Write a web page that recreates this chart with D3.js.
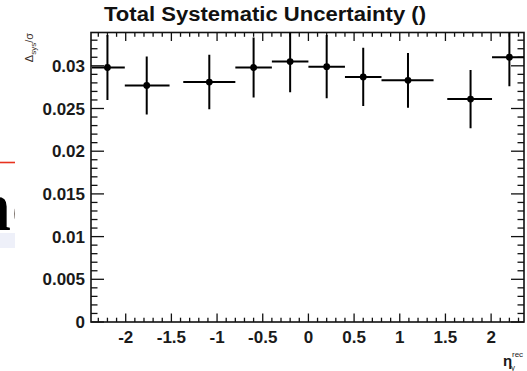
<!DOCTYPE html>
<html>
<head>
<meta charset="utf-8">
<script src="https://cdn.jsdelivr.net/npm/d3@7"></script>
<style>
  html, body { margin: 0; padding: 0; background: #fff; }
  svg { display: block; }
</style>
</head>
<body>
<svg id="chart" width="527" height="371"></svg>
<script>
// ---- data ----
const binLow   = [-2.37, -2.01, -1.37, -0.8, -0.4, 0.0, 0.4, 0.8, 1.52, 2.01];
const binHigh  = [-2.01, -1.52, -0.8, -0.4, 0.0, 0.4, 0.8, 1.37, 2.01, 2.37];
const xCenter  = [-2.2, -1.77, -1.085, -0.6, -0.2, 0.2, 0.6, 1.09, 1.775, 2.2];
const values   = [0.0298, 0.0277, 0.0281, 0.0298, 0.0305, 0.0299, 0.0287, 0.0283, 0.0261, 0.0310];
const errors   = [0.0038, 0.0034, 0.0032, 0.0035, 0.0036, 0.0037, 0.0034, 0.0032, 0.0034, 0.0034];
const xTicks   = [-2, -1.5, -1, -0.5, 0, 0.5, 1, 1.5, 2];
const xTickLabels = ["-2", "-1.5", "-1", "-0.5", "0", "0.5", "1", "1.5", "2"];
const yTicks   = [0, 0.005, 0.01, 0.015, 0.02, 0.025, 0.03];
const yTickLabels = ["0", "0.005", "0.01", "0.015", "0.02", "0.025", "0.03"];
const titleText = "Total Systematic Uncertainty ()";

const svg = d3.select("#chart");
const L = 91, R = 524, T = 32.5, B = 322;
const x = d3.scaleLinear().domain([-2.38, 2.36]).range([L, R]);
const y = d3.scaleLinear().domain([0, 0.0339]).range([B, T]);

svg.append("rect").attr("width", 527).attr("height", 371).attr("fill", "#fff");

// ---- leftover slide fragment on the left edge ----
const defs = svg.append("defs");
defs.append("clipPath").attr("id", "leftClip")
  .append("rect").attr("x", 0).attr("y", 0).attr("width", 15).attr("height", 371);
defs.append("clipPath").attr("id", "plotClip")
  .append("rect").attr("x", L).attr("y", T).attr("width", R - L).attr("height", B - T);
const frag = svg.append("g").attr("clip-path", "url(#leftClip)");
frag.append("line").attr("x1", 0).attr("x2", 15).attr("y1", 162.5).attr("y2", 162.5)
  .attr("stroke", "#e8321e").attr("stroke-width", 1.6);
frag.append("text").attr("x", 11).attr("y", 230).attr("text-anchor", "end")
  .attr("font-family", "Liberation Serif, serif").attr("font-weight", "bold")
  .attr("font-size", 70).attr("fill", "#000").text("n");
frag.append("text").attr("x", 12).attr("y", 230)
  .attr("font-family", "Liberation Serif, serif").attr("font-weight", "bold")
  .attr("font-size", 70).attr("fill", "#2a1a10").text("c");
frag.append("rect").attr("x", 0).attr("y", 233).attr("width", 15).attr("height", 15)
  .attr("fill", "#eef0f9");

// ---- title ----
svg.append("text").attr("x", 265).attr("y", 21).attr("text-anchor", "middle")
  .attr("font-family", "Liberation Sans, Arial, sans-serif").attr("font-weight", "bold")
  .attr("font-size", 19.5).attr("fill", "#111")
  .attr("textLength", 322).attr("lengthAdjust", "spacingAndGlyphs")
  .text(titleText);

// ---- ticks ----
const g = svg.append("g").attr("stroke", "#111").attr("stroke-width", 1.3);
const xMinor = d3.range(-23, 24).map(d => d / 10);
xMinor.forEach(v => {
  const major = Math.abs(v * 2 - Math.round(v * 2)) < 1e-6;
  const len = major ? 8.5 : 4.3;
  g.append("line").attr("x1", x(v)).attr("x2", x(v)).attr("y1", B).attr("y2", B - len);
  g.append("line").attr("x1", x(v)).attr("x2", x(v)).attr("y1", T).attr("y2", T + len);
});
const yMinor = d3.range(0, 34).map(d => d / 1000);
yMinor.forEach(v => {
  const major = (Math.round(v * 1000) % 5) === 0;
  const len = major ? 13 : 6.5;
  g.append("line").attr("x1", L).attr("x2", L + len).attr("y1", y(v)).attr("y2", y(v));
  g.append("line").attr("x1", R).attr("x2", R - len).attr("y1", y(v)).attr("y2", y(v));
});

// frame
svg.append("rect").attr("x", L).attr("y", T).attr("width", R - L).attr("height", B - T)
  .attr("fill", "none").attr("stroke", "#111").attr("stroke-width", 1.6);

// ---- tick labels ----
const labelFont = "Liberation Sans, Arial, sans-serif";
svg.append("g").selectAll("text").data(xTicks).join("text")
  .attr("x", d => x(d)).attr("y", 342.5).attr("text-anchor", "middle")
  .attr("font-family", labelFont).attr("font-weight", "bold").attr("font-size", 17)
  .attr("fill", "#1a1a1a")
  .text((d, i) => xTickLabels[i]);
svg.append("g").selectAll("text").data(yTicks).join("text")
  .attr("x", 85).attr("y", d => y(d) + 6).attr("text-anchor", "end")
  .attr("font-family", labelFont).attr("font-weight", "bold").attr("font-size", 17)
  .attr("fill", "#1a1a1a")
  .text((d, i) => yTickLabels[i]);

// ---- axis titles ----
const yt = svg.append("text")
  .attr("transform", "translate(33,33) rotate(-90)")
  .attr("text-anchor", "end")
  .attr("font-family", labelFont).attr("font-size", 11).attr("fill", "#3a2e28");
yt.append("tspan").text("Δ");
yt.append("tspan").attr("font-size", 8).attr("dy", 2.5).text("sys");
yt.append("tspan").attr("dy", -2.5).text("/σ");

const xt = svg.append("text").attr("x", 503).attr("y", 366)
  .attr("font-family", labelFont).attr("font-weight", "bold").attr("font-size", 15).attr("fill", "#1a1a1a");
xt.append("tspan").text("η");
svg.append("text").attr("x", 512).attr("y", 356.5)
  .attr("font-family", labelFont).attr("font-size", 8).attr("fill", "#1a1a1a").text("rec");
svg.append("text").attr("x", 511).attr("y", 370)
  .attr("font-family", labelFont).attr("font-size", 8).attr("fill", "#1a1a1a").text("γ");

// ---- data points ----
const pts = svg.append("g").attr("clip-path", "url(#plotClip)");
values.forEach((v, i) => {
  pts.append("line").attr("x1", x(binLow[i])).attr("x2", x(binHigh[i]))
    .attr("y1", y(v)).attr("y2", y(v))
    .attr("stroke", "#000").attr("stroke-width", 2);
  pts.append("line").attr("x1", x(xCenter[i])).attr("x2", x(xCenter[i]))
    .attr("y1", y(v - errors[i])).attr("y2", y(v + errors[i]))
    .attr("stroke", "#000").attr("stroke-width", 2);
  pts.append("circle").attr("cx", x(xCenter[i])).attr("cy", y(v)).attr("r", 3.4)
    .attr("fill", "#000");
});
</script>
</body>
</html>
